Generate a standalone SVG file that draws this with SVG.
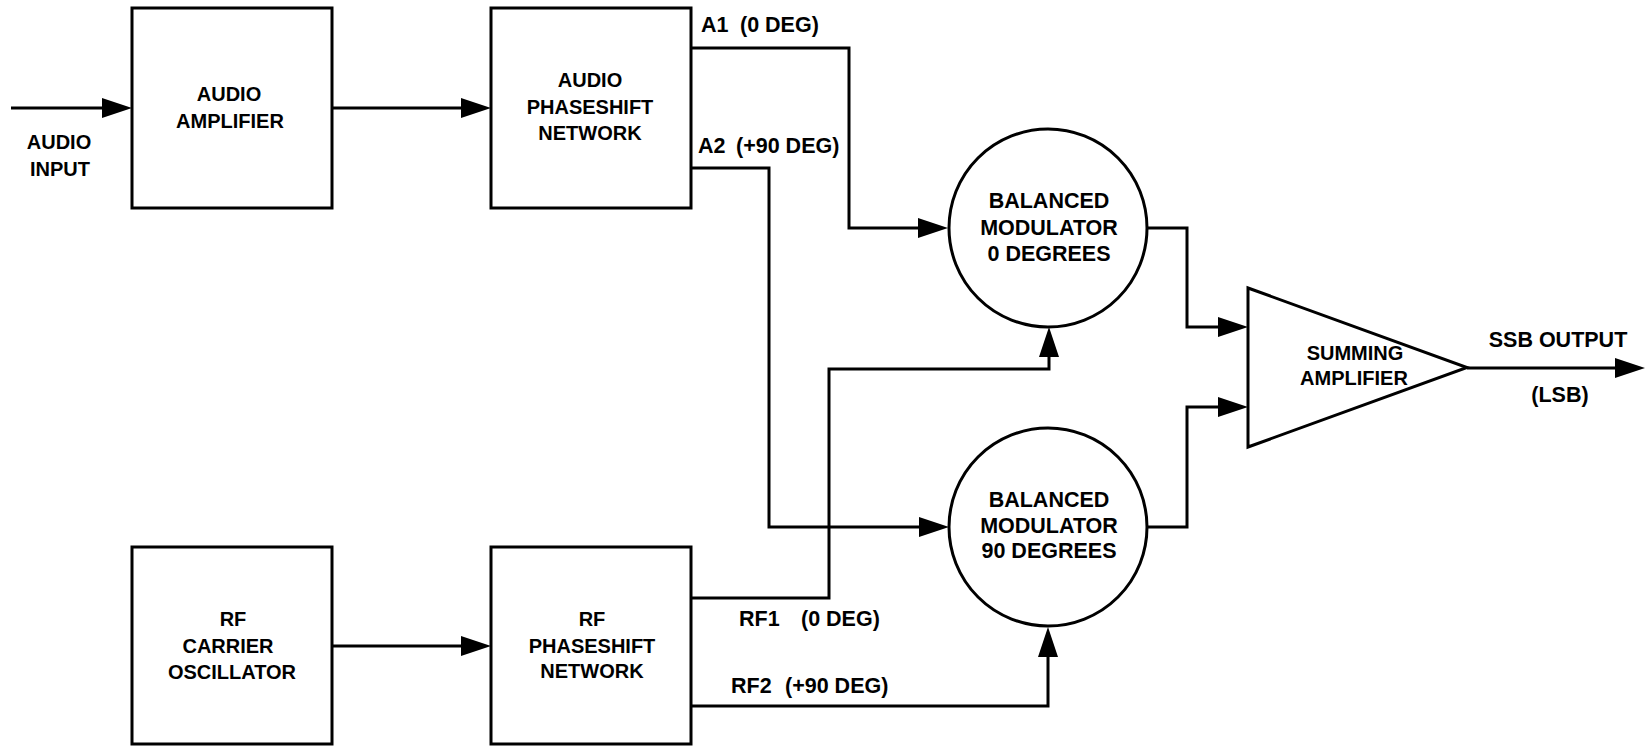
<svg xmlns="http://www.w3.org/2000/svg" width="1651" height="746" viewBox="0 0 1651 746">
<style>
.shape{fill:#fff;stroke:#000;stroke-width:3}
.wire{fill:none;stroke:#000;stroke-width:3;marker-end:url(#arr)}
text{font-family:"Liberation Sans",Arial,sans-serif;font-weight:bold;font-size:20px;fill:#000}
.c{text-anchor:middle}
.big{font-size:21.5px}
.lbl{font-size:21.5px}
</style>
<defs>
<marker id="arr" markerUnits="userSpaceOnUse" markerWidth="30" markerHeight="20" refX="20" refY="10" orient="auto">
<path d="M0,0 L30,10 L0,20 z" fill="#000"/>
</marker>
</defs>
<rect width="1651" height="746" fill="#fff"/>
<g id="connectors">
<path class="wire" d="M11,108 H122"/>
<path class="wire" d="M332,108 H481"/>
<path class="wire" d="M691,48 H849 V228 H938"/>
<path class="wire" d="M691,168 H769 V527 H939"/>
<path class="wire" d="M691,598 H829 V369 H1049 V337"/>
<path class="wire" d="M691,706 H1048 V637"/>
<path class="wire" d="M332,646 H481"/>
<path class="wire" d="M1148,228 H1187 V327 H1238"/>
<path class="wire" d="M1148,527 H1187 V407 H1238"/>
<path class="wire" d="M1467,368 H1635"/>
</g>
<g id="audio-input">
<text class="c" x="59" y="149">AUDIO</text>
<text class="c" x="60" y="176">INPUT</text>
</g>
<g id="audio-amplifier">
<rect class="shape" x="132" y="8" width="200" height="200"/>
<text class="c" x="229" y="101">AUDIO</text>
<text class="c" x="230" y="128">AMPLIFIER</text>
</g>
<g id="audio-phaseshift">
<rect class="shape" x="491" y="8" width="200" height="200"/>
<text class="c" x="590" y="87">AUDIO</text>
<text class="c" x="590" y="114">PHASESHIFT</text>
<text class="c" x="590" y="140">NETWORK</text>
</g>
<g id="label-a1"><text class="lbl" x="701" y="32">A1<tspan x="740">(0 DEG)</tspan></text></g>
<g id="label-a2"><text class="lbl" x="698" y="153">A2<tspan x="736">(+90 DEG)</tspan></text></g>
<g id="rf-carrier">
<rect class="shape" x="132" y="547" width="200" height="197"/>
<text class="c" x="233" y="626">RF</text>
<text class="c" x="228" y="653">CARRIER</text>
<text class="c" x="232" y="679">OSCILLATOR</text>
</g>
<g id="rf-phaseshift">
<rect class="shape" x="491" y="547" width="200" height="197"/>
<text class="c" x="592" y="626">RF</text>
<text class="c" x="592" y="653">PHASESHIFT</text>
<text class="c" x="592" y="678">NETWORK</text>
</g>
<g id="label-rf1"><text class="lbl" x="739" y="626">RF1<tspan x="801">(0 DEG)</tspan></text></g>
<g id="label-rf2"><text class="lbl" x="731" y="693">RF2<tspan x="785">(+90 DEG)</tspan></text></g>
<g id="mod-0">
<circle class="shape" cx="1048" cy="228" r="99"/>
<text class="c big" x="1049" y="208">BALANCED</text>
<text class="c big" x="1049" y="235">MODULATOR</text>
<text class="c big" x="1049" y="261">0 DEGREES</text>
</g>
<g id="mod-90">
<circle class="shape" cx="1048" cy="527" r="99"/>
<text class="c big" x="1049" y="507">BALANCED</text>
<text class="c big" x="1049" y="533">MODULATOR</text>
<text class="c big" x="1049" y="558">90 DEGREES</text>
</g>
<g id="summing-amplifier">
<polygon class="shape" points="1248,288 1248,447 1467,367.5"/>
<text class="c" x="1355" y="360">SUMMING</text>
<text class="c" x="1354" y="385">AMPLIFIER</text>
</g>
<g id="output-label">
<text class="c big" x="1558" y="347">SSB OUTPUT</text>
<text class="c big" x="1560" y="402">(LSB)</text>
</g>
</svg>
